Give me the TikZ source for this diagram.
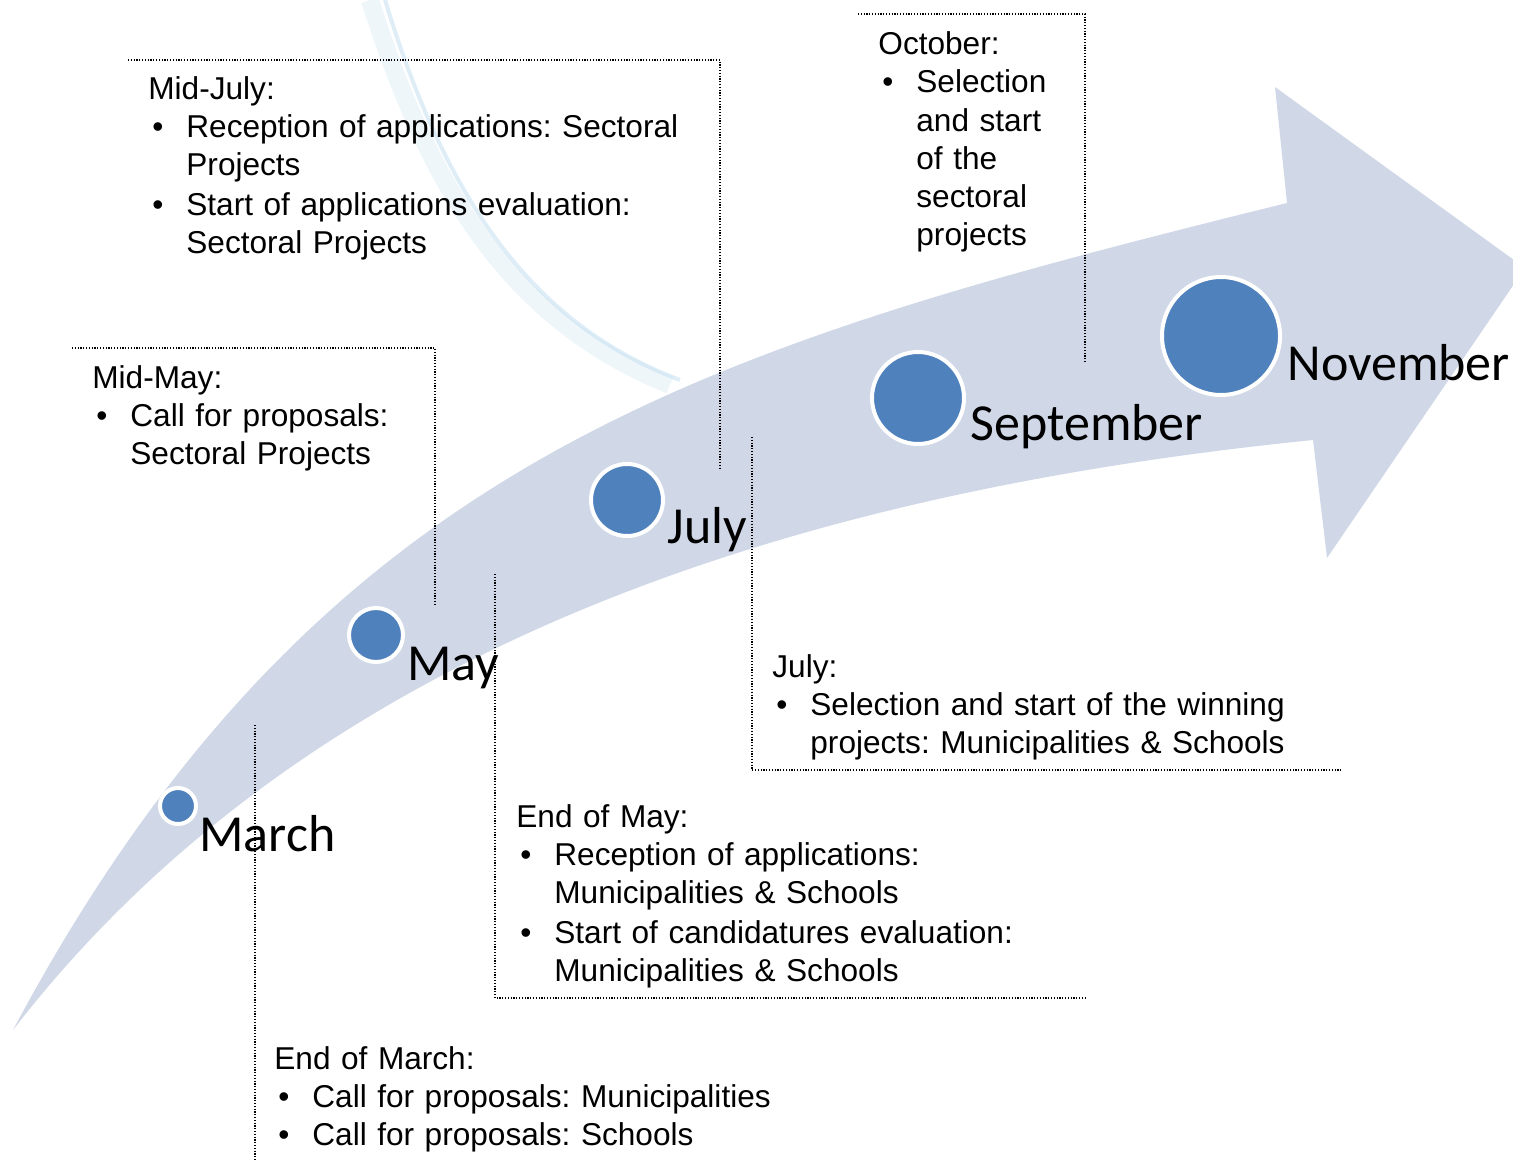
\documentclass[tikz,border=0pt]{standalone}
\usepackage{fontspec}
\setmainfont{Liberation Sans}
\newfontfamily\monthfont{Carlito}
\usetikzlibrary{positioning}

\definecolor{arrowfill}{RGB}{208,216,232}
\definecolor{dotblue}{RGB}{79,129,189}
\definecolor{swoosh}{RGB}{200,225,240}

\newcommand{\itm}[1]{\par\noindent\makebox[19pt][l]{\hspace{2pt}\textbullet}\begin{tabular}[t]{@{}l@{}}#1\end{tabular}}

\begin{document}
\frenchspacing
\begin{tikzpicture}[x=0.5pt, y=-0.5pt,
        month dot/.style={circle, fill=dotblue, draw=white, line width=2pt, inner sep=0pt},
        month label/.style={anchor=base west, inner sep=0pt, font=\monthfont\fontsize{26pt}{31pt}\selectfont},
        info box/.style={anchor=base west, inner sep=0pt, align=left, text width=#1, font=\fontsize{15.8pt}{19pt}\selectfont},
        info box/.default=320pt,
        frame/.style={line width=0.6pt, dash pattern=on 0.6pt off 0.8pt}]
        \useasboundingbox (0, 0) rectangle (1513, 1161);
        \clip (0, 0) rectangle (1513, 1161);

        \draw[swoosh, line width=9pt, opacity=0.3] (370, 0) .. controls (430, 190) and (510, 320) .. (670, 385);
        \draw[swoosh, line width=2pt, opacity=0.6] (385, 0) .. controls (440, 180) and (520, 320) .. (680, 380);

        \fill[arrowfill] (13, 1030) .. controls (318, 458) and (705, 347) .. (1287, 203)
            -- (1275, 87) -- (1525, 268) -- (1327, 558) -- (1313, 440)
            .. controls (818, 490) and (318, 635) .. (13, 1030) -- cycle;

        \node[month dot, minimum size=18pt] at (178, 806) (mar) {};
        \node[month dot, minimum size=27pt] at (376, 635) (may) {};
        \node[month dot, minimum size=36pt] at (627, 500) (jul) {};
        \node[month dot, minimum size=46pt] at (918, 398) (sep) {};
        \node[month dot, minimum size=59pt] at (1221, 336) (nov) {};

        \node[month label] at (199, 851) (marlabel) {March};
        \node[month label] at (407, 680) (maylabel) {May};
        \node[month label] at (667, 543) (jullabel) {July};
        \node[month label] at (970, 440) (seplabel) {September};
        \node[month label] at (1287, 380) (novlabel) {November};

        \node[info box] at (148, 99) (midjuly) {Mid-July:
            \itm{Reception of applications: Sectoral\\Projects}
            \itm{Start of applications evaluation:\\Sectoral Projects}};
        \node[info box] at (92, 388) (midmay) {Mid-May:
            \itm{Call for proposals:\\Sectoral Projects}};
        \node[info box=110pt] at (878, 55) (october) {October:
            \itm{Selection\\and start\\of the\\sectoral\\projects}};
        \node[info box] at (772, 677) (julybox) {July:
            \itm{Selection and start of the winning\\projects: Municipalities \& Schools}};
        \node[info box] at (516, 827) (endmay) {End of May:
            \itm{Reception of applications:\\Municipalities \& Schools}
            \itm{Start of candidatures evaluation:\\Municipalities \& Schools}};
        \node[info box] at (274, 1069) (endmarch) {End of March:
            \itm{Call for proposals: Municipalities}
            \itm{Call for proposals: Schools}};

        \coordinate (mj1) at (128, 60);
        \coordinate (mj2) at (720, 60);
        \coordinate (mj3) at (720, 468);
        \coordinate (mm1) at (72, 348);
        \coordinate (mm2) at (435, 348);
        \coordinate (mm3) at (435, 604);
        \coordinate (oc1) at (858, 14);
        \coordinate (oc2) at (1085, 14);
        \coordinate (oc3) at (1085, 362);
        \coordinate (jl1) at (752, 437);
        \coordinate (jl2) at (752, 770);
        \coordinate (jl3) at (1342, 770);
        \coordinate (em1) at (495, 574);
        \coordinate (em2) at (495, 998);
        \coordinate (em3) at (1085, 998);
        \coordinate (ec1) at (255, 725);
        \coordinate (ec2) at (255, 1161);

        \draw[frame] (mj1) -- (mj2) -- (mj3);
        \draw[frame] (mm1) -- (mm2) -- (mm3);
        \draw[frame] (oc1) -- (oc2) -- (oc3);
        \draw[frame] (jl1) -- (jl2) -- (jl3);
        \draw[frame] (em1) -- (em2) -- (em3);
        \draw[frame] (ec1) -- (ec2);
\end{tikzpicture}
\end{document}
